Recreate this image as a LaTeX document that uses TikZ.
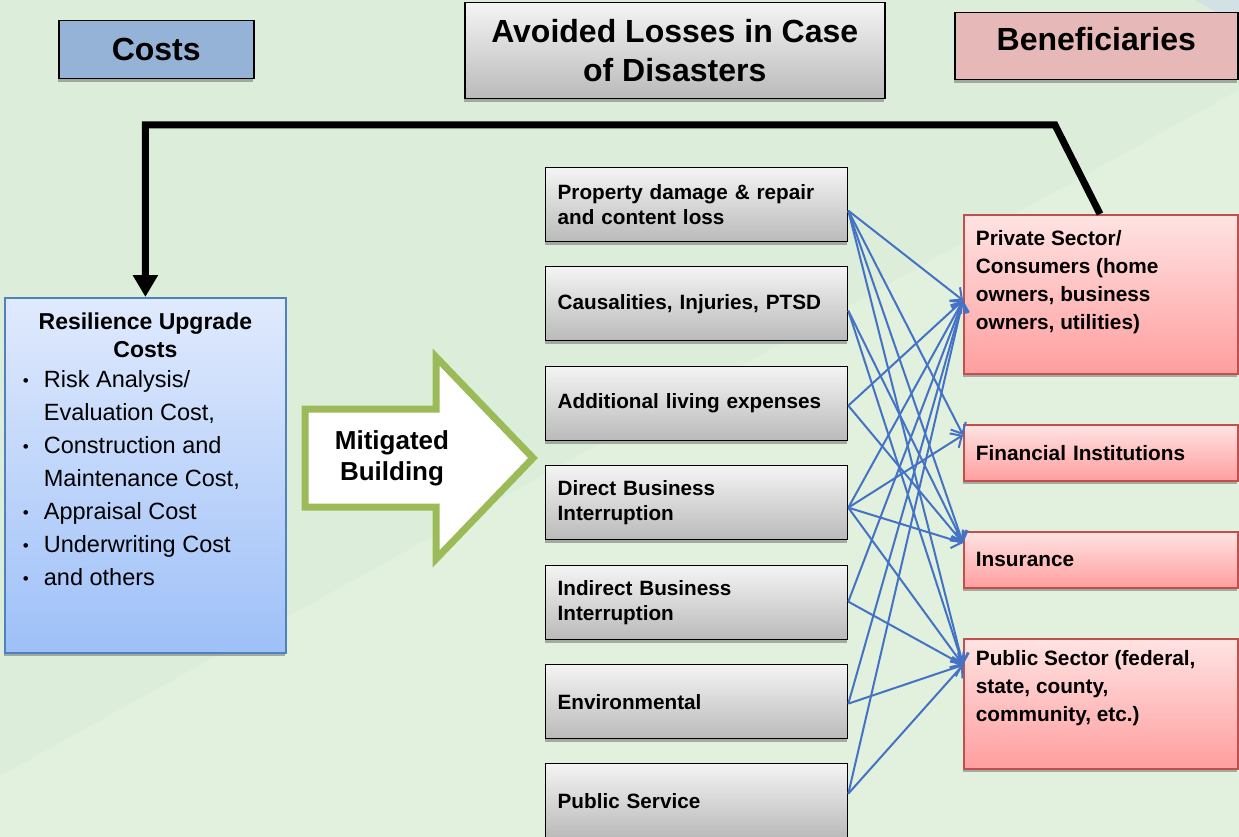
\documentclass[tikz,border=0pt]{standalone}
\usepackage{fontspec}
\setmainfont{Liberation Sans}
\usetikzlibrary{arrows.meta,calc,shadows}
\definecolor{bg}{RGB}{220,238,218}
\definecolor{bgl}{RGB}{225,241,222}
\definecolor{cornerC}{RGB}{210,225,228}
\definecolor{costC}{RGB}{149,179,215}
\definecolor{benH}{RGB}{230,185,184}
\definecolor{lossT}{RGB}{244,244,244}
\definecolor{lossB}{RGB}{186,186,186}
\definecolor{benD}{RGB}{192,80,77}
\definecolor{benT}{RGB}{255,227,227}
\definecolor{benB}{RGB}{255,158,158}
\definecolor{resT}{RGB}{224,234,253}
\definecolor{resB}{RGB}{158,192,248}
\definecolor{resD}{RGB}{79,129,189}
\definecolor{linkC}{RGB}{68,114,196}
\definecolor{arrG}{RGB}{155,187,89}
\newcommand{\bulline}[1]{\par\noindent\hspace*{18pt}\makebox[21pt][l]{\raisebox{1pt}{\fontsize{17}{17}\selectfont\textbullet}}#1}
\newcommand{\contline}[1]{\par\noindent\hspace*{39pt}#1}
\begin{document}
\begin{tikzpicture}[x=1pt,y=-1pt,
  shad/.style={drop shadow={shadow xshift=-0.5pt,shadow yshift=-3.5pt,fill=black!60,opacity=0.5}},
  hdr/.style={shad,draw=black,line width=1.5pt,inner sep=0pt,anchor=north west,
    font=\fontsize{32}{39}\selectfont\bfseries,align=center},
  loss/.style={shad,draw=black,line width=1.3pt,top color=lossT,bottom color=lossB,
    anchor=north west,text width=278pt,inner xsep=12pt,inner ysep=0pt,minimum height=74pt,
    align=left,font=\fontsize{20.7}{25}\selectfont\bfseries},
  ben/.style={shad,draw=benD,line width=1.8pt,top color=benT,bottom color=benB,
    anchor=north west,inner sep=0pt,font=\fontsize{20.8}{28}\selectfont\bfseries},
  bensmall/.style={ben,text width=250pt,inner xsep=12pt,minimum height=56pt,align=left},
  link/.style={draw=linkC,line width=2pt,-{Straight Barb[length=9pt,width=17pt]}},
]
\useasboundingbox (0,0) rectangle (1239,837);
\fill[bg] (0,0) rectangle (1239,837);
\fill[bgl] (0,776) -- (1239,90) -- (1239,837) -- (0,837) -- cycle;
\fill[cornerC] (1195,0) -- (1239,0) -- (1239,25) -- cycle;

% headers
\node[hdr,fill=costC,minimum width=195pt,minimum height=58pt] (costs) at (58,20) {Costs};
\node[hdr,top color=lossT,bottom color=lossB,minimum width=420pt,minimum height=96pt] (avoid) at (464,2) {Avoided Losses in Case\\of Disasters};
\node[hdr,fill=benH,minimum width=283pt,text height=37.5pt,text depth=29.5pt] (benef) at (954,12) {Beneficiaries};

% resilience box
\node[shad,draw=resD,line width=1.8pt,top color=resT,bottom color=resB,anchor=north west,inner sep=0pt] (res) at (4,297) {\parbox[c][355pt][t]{281pt}{%
\vspace*{15pt}%
{\centering\fontsize{23}{28}\selectfont\bfseries Resilience Upgrade\\Costs\par}%
\fontsize{23.5}{33}\selectfont
\vspace{-3pt}%
\bulline{Risk Analysis/}\contline{Evaluation Cost,}\bulline{Construction and}\contline{Maintenance Cost,}\bulline{Appraisal Cost}\bulline{Underwriting Cost}\bulline{and others}\par}};

% mitigated building arrow
\draw[draw=arrG,fill=white,line width=7pt,line join=miter]
  (305,409) -- (436,409) -- (436,357) -- (533,458) -- (436,559) -- (436,507) -- (305,507) -- cycle;
\node[font=\fontsize{26}{31}\selectfont\bfseries,align=center] (mitig) at (392,458) {Mitigated\\Building};

% losses
\node[loss] (l1) at (545,167) {Property damage \& repair\\and content loss};
\node[loss] (l2) at (545,266) {Causalities, Injuries, PTSD};
\node[loss] (l3) at (545,366) {Additional living expenses};
\node[loss] (l4) at (545,465) {Direct Business\\Interruption};
\node[loss] (l5) at (545,565) {Indirect Business\\Interruption};
\node[loss] (l6) at (545,664) {Environmental};
\node[loss] (l7) at (545,763) {Public Service};

% beneficiaries
\node[ben] (priv) at (963,214) {\parbox[c][159pt][t]{274pt}{\vspace*{16pt}\leftskip=12pt\noindent Private Sector/\\Consumers (home\\owners, business\\owners, utilities)\par}};
\node[bensmall] (fin) at (963,424) {Financial Institutions};
\node[bensmall] (ins) at (963,531) {Insurance};
\node[ben] (pub) at (963,638) {\parbox[c][130pt][t]{274pt}{\vspace*{12pt}\leftskip=12pt\noindent Public Sector (federal,\\state, county,\\community, etc.)\par}};

% arrow start and end points
\coordinate (s1) at ($(l1.east)+(0,6)$);
\coordinate (s2) at ($(l2.east)+(0,7)$);
\coordinate (s3) at ($(l3.east)+(0,2)$);
\coordinate (s4) at ($(l4.east)+(0,5)$);
\coordinate (s5) at ($(l5.east)+(0,-1)$);
\coordinate (s6) at ($(l6.east)+(0,2)$);
\coordinate (s7) at ($(l7.east)+(0,-7)$);
\coordinate (tpriv) at ($(priv.west)+(0,6)$);
\coordinate (tfin) at ($(fin.north west)+(0,11)$);
\coordinate (tins) at ($(ins.north west)+(0,12)$);
\coordinate (tpub) at ($(pub.north west)+(0,27)$);

\foreach \s/\t in {s1/tpriv,s1/tfin,s1/tins,s1/tpub,s2/tins,s2/tpub,s3/tpriv,s3/tins,
  s4/tpriv,s4/tfin,s4/tins,s4/tpub,s5/tpriv,s5/tpub,s6/tpriv,s6/tpub,s7/tpriv,s7/tpub}
  \draw[link] (\s) -- (\t);

% feedback connector
\coordinate (bend) at (1055,125);
\draw[line width=7pt,line join=miter,-{Triangle[length=22pt,width=24pt]}]
  ($(priv.north west)+(137,0)$) -- (bend) -| (res.north);
\end{tikzpicture}
\end{document}
